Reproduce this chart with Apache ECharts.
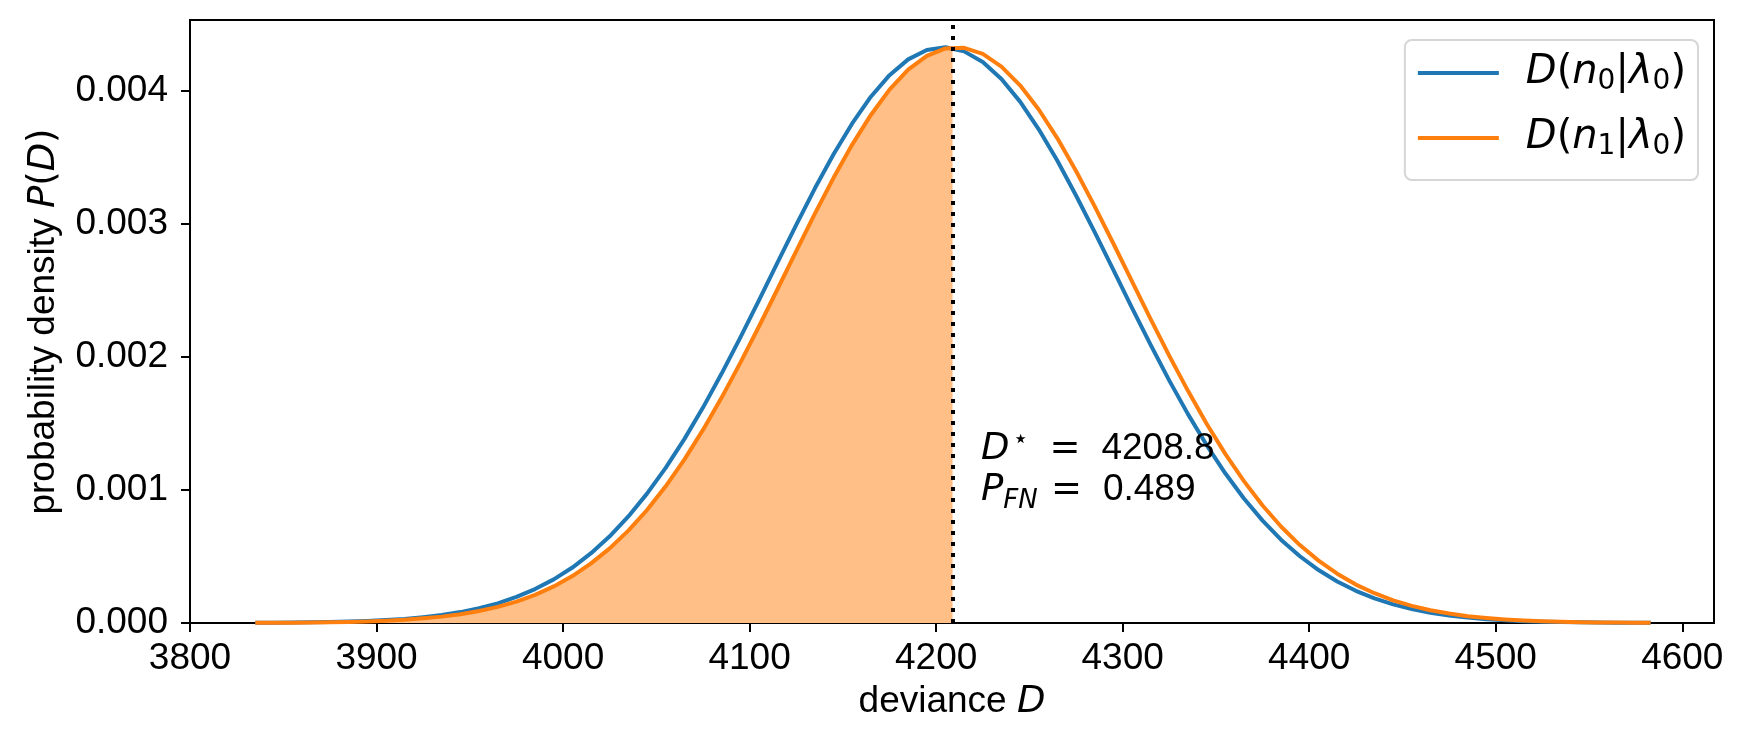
<!DOCTYPE html>
<html>
<head>
    <meta charset="utf-8" />
    <title>deviance</title>
    <script src="https://cdn.jsdelivr.net/npm/echarts@6/dist/echarts.min.js"></script>
    <style type="text/css">
        body { margin: 0; padding: 0; background-color: #fff; overflow: hidden; }
        #main { width: 1745px; height: 747px; }
    </style>
</head>
<body>
    <div id="main"></div>
    <script type="text/javascript">
        // deviance grid (x) shared by both curves
        var devX = [3835, 3845, 3855, 3865, 3875, 3885, 3895, 3905, 3915, 3925,
            3935, 3945, 3955, 3965, 3975, 3985, 3995, 4005, 4015, 4025,
            4035, 4045, 4055, 4065, 4075, 4085, 4095, 4105, 4115, 4125,
            4135, 4145, 4155, 4165, 4175, 4185, 4195, 4205, 4215, 4225,
            4235, 4245, 4255, 4265, 4275, 4285, 4295, 4305, 4315, 4325,
            4335, 4345, 4355, 4365, 4375, 4385, 4395, 4405, 4415, 4425,
            4435, 4445, 4455, 4465, 4475, 4485, 4495, 4505, 4515, 4525,
            4535, 4545, 4555, 4565, 4575, 4583];
        // D(n0|λ0) - blue
        var densN0 = [0.000001, 0.000002, 0.000003, 0.000005, 0.000007, 0.000011, 0.000015, 0.000022, 0.000031, 0.000044,
            0.000060, 0.000082, 0.000111, 0.000148, 0.000196, 0.000255, 0.000328, 0.000417, 0.000525, 0.000652,
            0.000801, 0.000973, 0.001167, 0.001383, 0.001620, 0.001876, 0.002146, 0.002427, 0.002712, 0.002995,
            0.003269, 0.003525, 0.003757, 0.003958, 0.004120, 0.004239, 0.004309, 0.004330, 0.004299, 0.004219,
            0.004091, 0.003921, 0.003713, 0.003476, 0.003215, 0.002939, 0.002655, 0.002370, 0.002091, 0.001823,
            0.001571, 0.001338, 0.001126, 0.000936, 0.000770, 0.000625, 0.000502, 0.000398, 0.000312, 0.000242,
            0.000185, 0.000140, 0.000105, 0.000077, 0.000057, 0.000041, 0.000029, 0.000021, 0.000014, 0.000010,
            0.000007, 0.000005, 0.000003, 0.000002, 0.000001, 0.000001];
        // D(n1|λ0) - orange
        var densN1 = [0.000001, 0.000002, 0.000002, 0.000004, 0.000006, 0.000008, 0.000012, 0.000017, 0.000024, 0.000035,
            0.000048, 0.000066, 0.000090, 0.000121, 0.000161, 0.000212, 0.000275, 0.000353, 0.000448, 0.000561,
            0.000695, 0.000850, 0.001028, 0.001229, 0.001452, 0.001695, 0.001956, 0.002230, 0.002512, 0.002797,
            0.003078, 0.003348, 0.003598, 0.003821, 0.004011, 0.004161, 0.004265, 0.004321, 0.004326, 0.004280,
            0.004185, 0.004044, 0.003862, 0.003645, 0.003399, 0.003133, 0.002854, 0.002569, 0.002286, 0.002009,
            0.001746, 0.001499, 0.001272, 0.001067, 0.000884, 0.000724, 0.000586, 0.000469, 0.000371, 0.000289,
            0.000224, 0.000170, 0.000129, 0.000096, 0.000071, 0.000051, 0.000037, 0.000026, 0.000018, 0.000013,
            0.000009, 0.000006, 0.000004, 0.000003, 0.000002, 0.000001];
        var seriesNames = ['n0', 'n1'];
        var seriesSub = ['0', '1'];
        var dStar = 4208.8;
        var densN1AtStar = 0.004329;   // orange curve where the dotted line meets it
        var pFN = 0.489;
        var xTicks = [3800, 3900, 4000, 4100, 4200, 4300, 4400, 4500, 4600];
        var yTicks = [0, 0.001, 0.002, 0.003, 0.004];
        // where the D*/P_FN text starts (data coords)
        var notePos = [4224, 0.001155];

        var FONT = 'Liberation Sans, Arial, sans-serif';
        var MATH = 'DejaVu Sans';

        function pairs(xs, ys) {
            var out = [];
            for (var i = 0; i < xs.length; i++) out.push([xs[i], ys[i]]);
            return out;
        }
        // shaded part: orange curve up to D*
        var fillData = pairs(devX, densN1).filter(function (p) { return p[0] < dStar; });
        fillData.push([dStar, densN1AtStar]);

        var myChart = echarts.init(document.getElementById('main'));

        var option = {
            animation: false,
            grid: {
                left: 190, right: 31, top: 20, bottom: 124,
                show: true, borderColor: '#000', borderWidth: 2,
                outerBoundsMode: 'none'
            },
            legend: {
                data: seriesNames,
                orient: 'vertical',
                right: 47, top: 40,
                padding: [10, 12, 19, 13],
                itemWidth: 81, itemHeight: 4, icon: 'rect',
                itemGap: 19,
                selectedMode: false,
                borderColor: '#d6d6d6', borderWidth: 2, borderRadius: 7,
                backgroundColor: 'rgba(255,255,255,0.8)',
                formatter: function (name) {
                    var k = seriesSub[seriesNames.indexOf(name)];
                    return '{m0|D}{p|(}{m|n}{s|' + k + '}{p||}{m|λ}{s|0}{p|)}';
                },
                textStyle: {
                    color: '#000', fontSize: 40, lineHeight: 44,
                    rich: {
                        m0: { fontFamily: MATH, fontStyle: 'italic', fontSize: 40, lineHeight: 44, color: '#000', padding: [0, 0, 0, 22] },
                        m: { fontFamily: MATH, fontStyle: 'italic', fontSize: 40, lineHeight: 44, color: '#000' },
                        p: { fontFamily: MATH, fontSize: 40, lineHeight: 44, color: '#000' },
                        s: { fontFamily: MATH, fontSize: 28, lineHeight: 44, color: '#000', padding: [18, 0, 0, 0] }
                    }
                }
            },
            xAxis: {
                type: 'value', min: 3800, max: 4617,
                splitLine: { show: false },
                axisLine: { show: true, onZero: false, lineStyle: { color: '#000', width: 2 } },
                axisTick: { show: true, length: 9, lineStyle: { color: '#000', width: 2 }, customValues: xTicks },
                axisLabel: {
                    customValues: xTicks, color: '#000', fontSize: 37, fontFamily: FONT, margin: 17,
                    formatter: function (v) { return String(v); }
                },
                name: '{r|deviance }{i|D}',
                nameLocation: 'middle', nameGap: 59,
                nameTextStyle: {
                    rich: {
                        r: { fontFamily: FONT, fontSize: 37, color: '#000', lineHeight: 40 },
                        i: { fontFamily: MATH, fontStyle: 'italic', fontSize: 37, color: '#000', lineHeight: 40 }
                    }
                }
            },
            yAxis: {
                type: 'value', min: 0, max: 0.004535,
                splitLine: { show: false },
                axisLine: { show: true, lineStyle: { color: '#000', width: 2 } },
                axisTick: { show: true, length: 9, lineStyle: { color: '#000', width: 2 }, customValues: yTicks },
                axisLabel: {
                    customValues: yTicks, color: '#000', fontSize: 37, fontFamily: FONT, margin: 22,
                    formatter: function (v) { return v.toFixed(3); }
                },
                name: '{r|probability density }{i|P}{p|(}{i|D}{p|)}',
                nameLocation: 'middle', nameGap: 126,
                nameTextStyle: {
                    rich: {
                        r: { fontFamily: FONT, fontSize: 37, color: '#000', lineHeight: 40 },
                        i: { fontFamily: MATH, fontStyle: 'italic', fontSize: 37, color: '#000', lineHeight: 40 },
                        p: { fontFamily: MATH, fontSize: 37, color: '#000', lineHeight: 40 }
                    }
                }
            },
            series: [
                {
                    name: 'fill', type: 'line', data: fillData,
                    symbol: 'none', silent: true,
                    lineStyle: { width: 0 },
                    areaStyle: { color: '#ffbf86', opacity: 1 },
                    z: 1
                },
                {
                    name: seriesNames[0], type: 'line', data: pairs(devX, densN0),
                    symbol: 'none', silent: true,
                    color: '#1f77b4', lineStyle: { color: '#1f77b4', width: 4, join: 'round' },
                    z: 2
                },
                {
                    name: seriesNames[1], type: 'line', data: pairs(devX, densN1),
                    symbol: 'none', silent: true,
                    color: '#ff7f0e', lineStyle: { color: '#ff7f0e', width: 4, join: 'round' },
                    z: 3,
                    markLine: {
                        silent: true, symbol: ['none', 'none'],
                        label: { show: false },
                        lineStyle: { color: '#000', width: 4, type: [4, 7], cap: 'butt', opacity: 1 },
                        data: [{ xAxis: dStar }]
                    }
                },
                {
                    name: 'note', type: 'scatter', data: [notePos],
                    symbolSize: 0, silent: true, z: 5,
                    itemStyle: { opacity: 1 },
                    label: {
                        show: true, position: 'right', distance: 0, color: '#000', opacity: 1,
                        formatter: '{m|D}{sup|⋆}{eq|=}{n|' + dStar.toFixed(1) + '}\n' +
                            '{m|P}{sub|FN}{eq|=}{n|' + pFN.toFixed(3) + '}',
                        rich: {
                            m: { fontFamily: MATH, fontStyle: 'italic', fontSize: 37, lineHeight: 41, color: '#000' },
                            sup: { fontFamily: MATH, fontSize: 26, lineHeight: 41, color: '#000', width: 37, padding: [0, 0, 17, 3] },
                            sub: { fontFamily: MATH, fontStyle: 'italic', fontSize: 26, lineHeight: 41, color: '#000', width: 47.7, padding: [22, 0, 0, 0] },
                            eq: { fontFamily: MATH, fontSize: 37, lineHeight: 41, color: '#000', width: 52 },
                            n: { fontFamily: FONT, fontSize: 37, lineHeight: 41, color: '#000' }
                        }
                    }
                }
            ]
        };
        myChart.setOption(option);
    </script>
</body>
</html>
